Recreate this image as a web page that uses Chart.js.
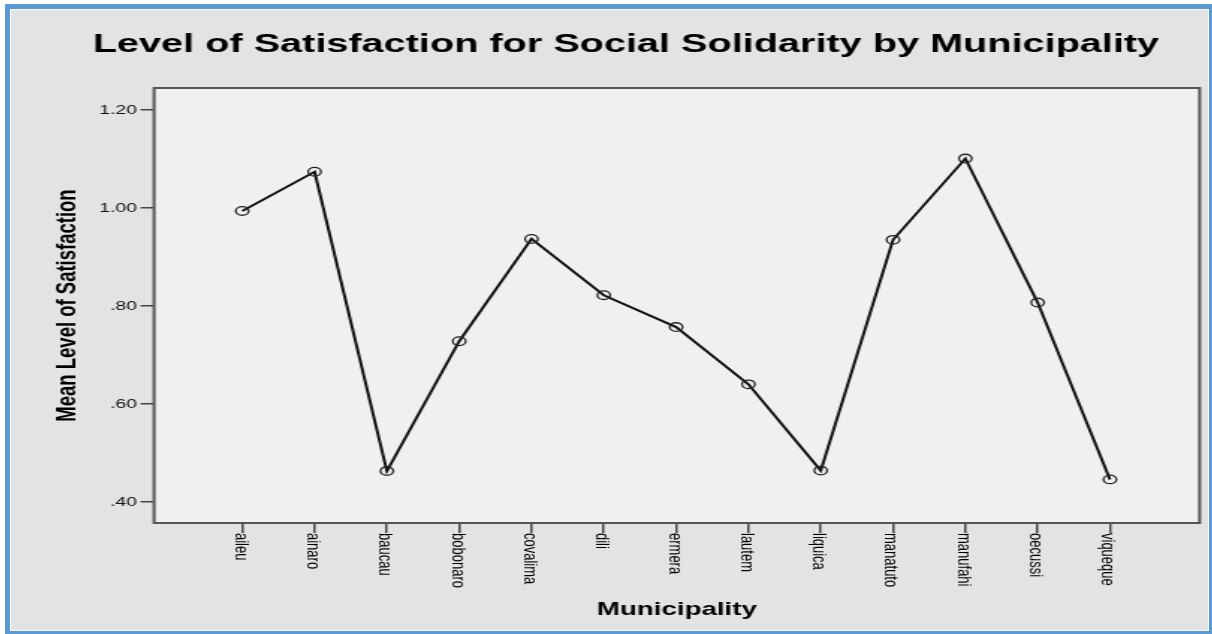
<!DOCTYPE html>
<html>
<head>
<meta charset="utf-8">
<title>Level of Satisfaction for Social Solidarity by Municipality</title>
<script src="https://cdn.jsdelivr.net/npm/chart.js@4.4.1/dist/chart.umd.min.js"></script>
<style>
    html, body { margin: 0; padding: 0; background: #ffffff; }
    .frame {
        position: absolute; left: 5px; top: 4px;
        width: 1199px; height: 622px;
        border-style: solid; border-color: #5b9bd5;
        border-width: 5px 3px 3px 5px;
    }
    .inner {
        width: 1197px; height: 620px;
        border: 1px solid #ffffff;
        background: #e3e3e3;
        overflow: hidden;
    }
    /* the original export is stretched sideways, so draw narrow and widen */
    .stretch {
        width: 800px; height: 620px;
        transform: scaleX(1.49625);
        transform-origin: 0 0;
    }
</style>
</head>
<body>
<div class="frame">
    <div class="inner">
        <div class="stretch">
            <canvas id="satisfactionChart"></canvas>
        </div>
    </div>
</div>
<script>
var municipalities = ['aileu', 'ainaro', 'baucau', 'bobonaro', 'covalima', 'dili', 'ermera',
    'lautem', 'liquica', 'manatuto', 'manufahi', 'oecussi', 'viqueque'];
var meanSatisfaction = [0.994, 1.074, 0.463, 0.728, 0.937, 0.822, 0.757,
    0.640, 0.464, 0.935, 1.101, 0.807, 0.446];
var yTickValues = [0.40, 0.60, 0.80, 1.00, 1.20];
var yTickLabels = ['.40', '.60', '.80', '1.00', '1.20'];

Chart.defaults.font.family = '"Liberation Sans", Arial, sans-serif';
Chart.defaults.color = '#111111';

// plot panel: light fill and dark frame
var panelPlugin = {
    id: 'panel',
    beforeDatasetsDraw: function(chart) {
        var a = chart.chartArea;
        var ctx = chart.ctx;
        ctx.save();
        ctx.fillStyle = '#f0f0f0';
        ctx.fillRect(a.left, a.top, a.right - a.left, a.bottom - a.top);
        ctx.strokeStyle = '#555555';
        ctx.lineWidth = 2;
        ctx.strokeRect(a.left, a.top, a.right - a.left, a.bottom - a.top);
        ctx.restore();
    }
};

// category labels turned to read top to bottom, under each tick
var xLabelPlugin = {
    id: 'xLabels',
    afterDraw: function(chart) {
        var xScale = chart.scales.x;
        var ctx = chart.ctx;
        ctx.save();
        ctx.font = '13px "Liberation Sans", Arial, sans-serif';
        ctx.fillStyle = '#000000';
        ctx.textAlign = 'left';
        ctx.textBaseline = 'alphabetic';
        municipalities.forEach(function(name, i) {
            ctx.save();
            ctx.translate(xScale.getPixelForValue(i) - 5, chart.chartArea.bottom + 10);
            ctx.rotate(Math.PI / 2);
            ctx.fillText(name, 0, 0);
            ctx.restore();
        });
        ctx.restore();
    }
};

var points = municipalities.map(function(name, i) {
    return { x: i, y: meanSatisfaction[i] };
});

var ctx = document.getElementById('satisfactionChart').getContext('2d');
var satisfactionChart = new Chart(ctx, {
    type: 'line',
    data: {
        datasets: [{
            label: 'Mean Level of Satisfaction',
            data: points,
            borderColor: '#111111',
            borderWidth: 2,
            pointRadius: 4.3,
            pointBorderColor: '#222222',
            pointBorderWidth: 1.3,
            pointBackgroundColor: 'rgba(0,0,0,0)',
            tension: 0
        }]
    },
    options: {
        responsive: true,
        maintainAspectRatio: false,
        animation: false,
        layout: { padding: { left: 23.2, right: 1.2, top: 0, bottom: 0 } },
        plugins: {
            legend: { display: false },
            tooltip: { enabled: false },
            title: {
                display: true,
                text: 'Level of Satisfaction for Social Solidarity by Municipality',
                color: '#000000',
                font: { size: 26.5, weight: 'bold' },
                padding: { top: 19.2, bottom: 27 }
            }
        },
        scales: {
            x: {
                type: 'linear',
                min: -1.22,
                max: 13.24,
                afterBuildTicks: function(axis) {
                    axis.ticks = municipalities.map(function(name, i) { return { value: i }; });
                },
                afterFit: function(axis) { axis.height = 107; },
                ticks: { display: false },
                grid: {
                    drawOnChartArea: false,
                    drawTicks: true,
                    tickLength: 10,
                    color: '#444444',
                    lineWidth: 1.5
                },
                border: { display: false },
                title: {
                    display: true,
                    text: 'Municipality',
                    color: '#000000',
                    font: { size: 18.5, weight: 'bold' },
                    padding: { top: 0, bottom: 8.6 }
                }
            },
            y: {
                min: 0.357,
                max: 1.245,
                afterBuildTicks: function(axis) {
                    axis.ticks = yTickValues.map(function(v) { return { value: v }; });
                },
                afterFit: function(axis) { axis.width = 72.4; },
                ticks: {
                    padding: 2.4,
                    font: { size: 13 },
                    color: '#111111',
                    callback: function(value) {
                        var i = yTickValues.indexOf(value);
                        return i >= 0 ? yTickLabels[i] : '';
                    }
                },
                grid: {
                    drawOnChartArea: false,
                    drawTicks: true,
                    tickLength: 9,
                    color: '#444444',
                    lineWidth: 1.5
                },
                border: { display: false },
                title: {
                    display: true,
                    text: 'Mean Level of Satisfaction',
                    color: '#000000',
                    font: { size: 18.5, weight: 'bold' },
                    padding: { top: 4.1, bottom: 0 }
                }
            }
        }
    },
    plugins: [panelPlugin, xLabelPlugin]
});
</script>
</body>
</html>
